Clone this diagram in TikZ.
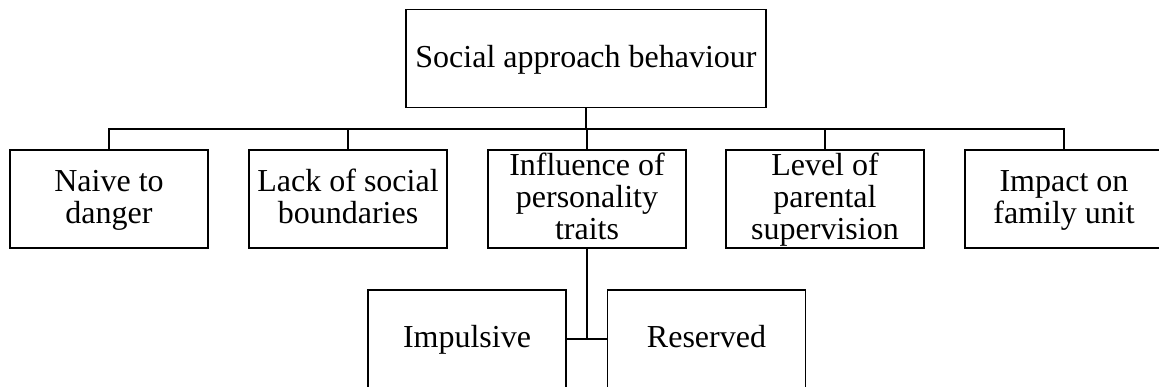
\documentclass[tikz,border=0pt]{standalone}
\usepackage{fontspec}
\setmainfont{Liberation Serif}
% uniform line strut: 24.6pt above, 7.4pt below the baseline
\newcommand\lnstrut{\rule[-7.4pt]{0pt}{32pt}}
\begin{document}
\begin{tikzpicture}[x=1pt,y=-1pt,
  box/.style={draw,line width=1.8pt,rectangle,inner sep=0pt,
    minimum width=198pt,minimum height=98pt,align=center,
    font=\fontsize{32}{32}\selectfont},
  link/.style={line width=1.8pt}]
\useasboundingbox (0,0) rectangle (1159,387);
\begin{scope}
\clip (0,0) rectangle (1159,387);
% root
\node[box,minimum width=360pt] (top) at (586,58.5) {\lnstrut Social approach behaviour};
% first level
\node[box] (b1) at (109,199) {\lnstrut Naive to\\\lnstrut danger};
\node[box] (b2) at (348,199) {\lnstrut Lack of social\\\lnstrut boundaries};
\node[box] (b3) at (587,199) {\lnstrut Influence of\\\lnstrut personality\\\lnstrut traits};
\node[box] (b4) at (825,199) {\lnstrut Level of\\\lnstrut parental\\\lnstrut supervision};
\node[box] (b5) at (1064,199) {\lnstrut Impact on\\\lnstrut family unit};
% second level
\node[box] (imp) at (467,339) {\lnstrut Impulsive};
\node[box] (res) at (706.5,339) {\lnstrut Reserved};
% bus line
\coordinate (bus) at (587,129);
\draw[link,line width=2.6pt] (top.south) -- (top.south |- bus);
\draw[link] (b1.north) -- (b1.north |- bus) -- (b5.north |- bus) -- (b5.north);
\draw[link] (b2.north) -- (b2.north |- bus);
\draw[link] (b3.north) -- (b3.north |- bus);
\draw[link] (b4.north) -- (b4.north |- bus);
% personality traits branch
\draw[link] (b3.south) -- (b3.south |- imp.east);
\draw[link] (imp.east) -- (res.west);
\end{scope}
\end{tikzpicture}
\end{document}
